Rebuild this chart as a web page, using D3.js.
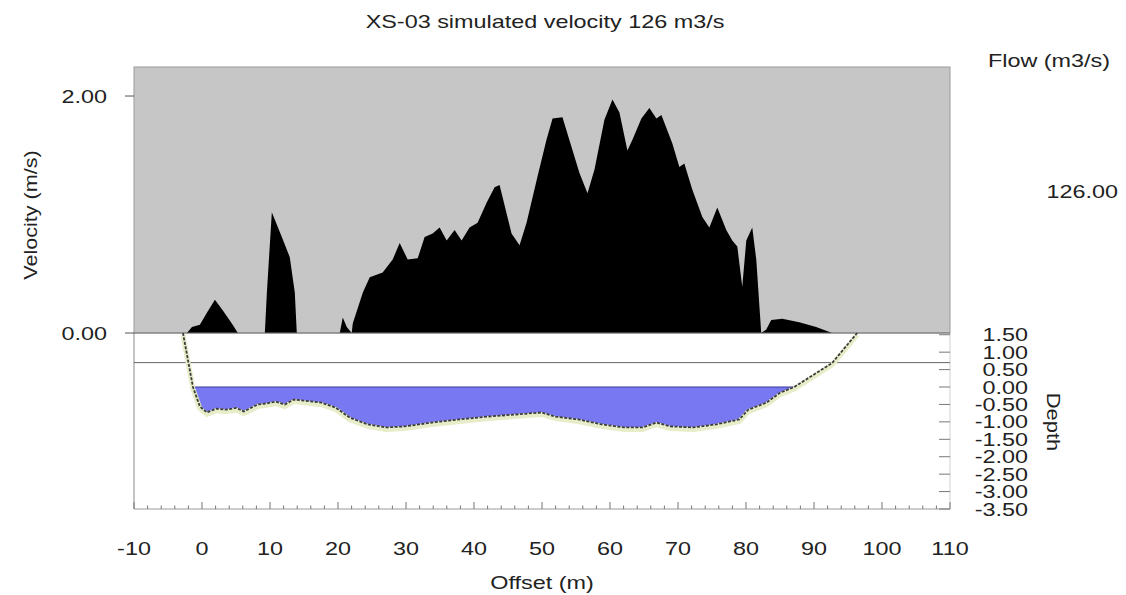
<!DOCTYPE html>
<html>
<head>
<meta charset="utf-8">
<script src="https://cdn.jsdelivr.net/npm/d3@7"></script>
<style>
  body { margin: 0; background: #fff; }
  text { font-family: "Liberation Sans", Arial, sans-serif; font-size: 18px; fill: #222; }
</style>
</head>
<body>
<svg id="plot"></svg>
<script>
const W = 1126, H = 595;
const plot = { left: 134, right: 950, top: 67, mid: 333, bottom: 509 };

const title = "XS-03 simulated velocity 126 m3/s";
const flowLabel = "Flow (m3/s)";
const flowValue = 126.0;

// velocity profile (offset m, velocity m/s)
const velOffset = [-2.22, -1.48, -0.31, 0.72, 1.9, 3.07, 4.39, 5.28, 9.24, 9.54, 10.27, 11.74, 12.91, 13.65, 13.94,
  20.26, 20.7, 21.29, 22.02, 22.17, 23.64, 24.67, 26.57, 28.04, 29.07, 30.25, 31.72, 32.74, 33.92, 34.95, 35.98,
  37.15, 38.18, 39.35, 40.53, 41.85, 43.03, 43.76, 45.52, 46.7, 47.73, 49.34, 50.66, 51.55, 53.01, 54.34, 55.51,
  56.69, 57.72, 59.18, 60.36, 61.39, 62.56, 63.3, 64.62, 65.79, 66.82, 67.56, 69.17, 70.2, 70.93, 72.11, 73.58,
  74.61, 75.78, 77.1, 77.98, 78.72, 79.45, 80.04, 80.92, 81.51, 82.24, 82.98, 83.71, 85.33, 87.83, 90.32, 92.67];
const velocity = [0, 0.05, 0.07, 0.17, 0.28, 0.19, 0.08, 0, 0, 0.34, 1.02, 0.81, 0.64, 0.34, 0,
  0, 0.13, 0.05, 0, 0.08, 0.34, 0.47, 0.51, 0.62, 0.76, 0.62, 0.63, 0.81, 0.84, 0.89, 0.78,
  0.87, 0.78, 0.89, 0.93, 1.1, 1.23, 1.25, 0.84, 0.74, 0.93, 1.32, 1.63, 1.81, 1.82, 1.57, 1.35,
  1.18, 1.38, 1.8, 1.97, 1.86, 1.54, 1.63, 1.81, 1.9, 1.81, 1.84, 1.6, 1.4, 1.43, 1.21, 0.98,
  0.89, 1.06, 0.87, 0.78, 0.73, 0.39, 0.78, 0.89, 0.62, 0, 0.03, 0.11, 0.12, 0.09, 0.05, 0];

// ground profile (offset m, elevation relative to water surface)
const bedOffset = [-2.8, -1.33, -0.31, 0.72, 2.1, 3.51, 5.0, 6.16, 8.21, 9.5, 10.86, 12.18, 13.5, 16.29, 17.61,
  19.67, 21.73, 24.37, 27.02, 29.81, 33.77, 37.89, 41.85, 45.96, 49.93, 51.99, 55.36, 58.74, 62.12, 64.77,
  66.82, 68.88, 72.26, 75.64, 79.01, 80.34, 82.98, 85.04, 87.09, 92.67, 96.35];
const bedDepth = [1.55, 0, -0.56, -0.73, -0.62, -0.65, -0.6, -0.7, -0.5, -0.47, -0.42, -0.5, -0.36, -0.42, -0.45,
  -0.59, -0.88, -1.07, -1.16, -1.13, -1.02, -0.93, -0.85, -0.79, -0.73, -0.85, -0.93, -1.07, -1.16, -1.16,
  -1.02, -1.13, -1.16, -1.07, -0.93, -0.65, -0.45, -0.16, 0, 0.69, 1.55];
const waterLevel = 0;
const refLevel = 0.7;

const xTicks = [-10, 0, 10, 20, 30, 40, 50, 60, 70, 80, 90, 100, 110];
const velTicks = [0, 2];
const depthTicks = [1.5, 1.0, 0.5, 0, -0.5, -1.0, -1.5, -2.0, -2.5, -3.0, -3.5];

const svg = d3.select("#plot").attr("width", W).attr("height", H);

const x = d3.scaleLinear().domain([-10, 110]).range([plot.left, plot.right]);
const yVel = d3.scaleLinear().domain([0, 2.245]).range([plot.mid, plot.top]);
const yDep = d3.scaleLinear().domain([-3.5, 1.55]).range([plot.bottom, plot.mid]);

// wide-looking text: stretch along the reading direction
function label(x0, y0, str, anchor, rot, sx) {
  return svg.append("text")
    .attr("transform", `translate(${x0},${y0}) rotate(${rot || 0}) scale(${sx || 1.3},1)`)
    .attr("text-anchor", anchor || "middle")
    .text(str);
}

// upper panel background
svg.append("rect")
  .attr("x", plot.left).attr("y", plot.top)
  .attr("width", plot.right - plot.left).attr("height", plot.mid - plot.top)
  .attr("fill", "#c6c6c6").attr("stroke", "#9a9a9a");

// velocity area
const vel = velOffset.map((o, i) => ({ o, v: velocity[i] }));
svg.append("path")
  .datum(vel)
  .attr("fill", "#000")
  .attr("d", d3.area().x(d => x(d.o)).y0(yVel(0)).y1(d => yVel(d.v)));

// lower panel frame
svg.append("line").attr("x1", plot.left).attr("x2", plot.left).attr("y1", plot.mid).attr("y2", plot.bottom)
  .attr("stroke", "#8a8a8a");
svg.append("line").attr("x1", plot.right).attr("x2", plot.right).attr("y1", plot.mid).attr("y2", plot.bottom)
  .attr("stroke", "#d0d0d0");
svg.append("line").attr("x1", plot.left).attr("x2", plot.right).attr("y1", plot.bottom).attr("y2", plot.bottom)
  .attr("stroke", "#9a9a9a");
svg.append("line").attr("x1", plot.left).attr("x2", plot.right).attr("y1", plot.mid).attr("y2", plot.mid)
  .attr("stroke", "#777");

// reference level line
svg.append("line")
  .attr("x1", plot.left).attr("x2", plot.right)
  .attr("y1", yDep(refLevel)).attr("y2", yDep(refLevel))
  .attr("stroke", "#666").attr("stroke-width", 1);

// water (blue) between surface and bed
const bed = bedOffset.map((o, i) => ({ o, d: bedDepth[i] }));
const wet = bed.filter(d => d.d <= waterLevel);
svg.append("path")
  .datum(wet)
  .attr("fill", "#7878f2")
  .attr("d", d3.area().x(d => x(d.o)).y0(yDep(waterLevel)).y1(d => yDep(d.d)));
svg.append("line")
  .attr("x1", x(wet[0].o)).attr("x2", x(wet[wet.length - 1].o))
  .attr("y1", yDep(waterLevel)).attr("y2", yDep(waterLevel))
  .attr("stroke", "#3a3a9a").attr("stroke-width", 1.2);

// ground line
const bedLine = d3.line().x(d => x(d.o)).y(d => yDep(d.d));
svg.append("path").datum(bed)
  .attr("fill", "none").attr("stroke", "#e6edc8").attr("stroke-width", 5)
  .attr("transform", "translate(0,2)")
  .attr("d", bedLine);
svg.append("path").datum(bed)
  .attr("fill", "none").attr("stroke", "#3c3c3c").attr("stroke-width", 1.8)
  .attr("stroke-dasharray", "3,1.5")
  .attr("d", bedLine);

// x ticks (every 2 m, pointing up)
d3.range(-10, 111, 2).forEach(t => {
  const major = t % 10 === 0;
  svg.append("line")
    .attr("x1", x(t)).attr("x2", x(t))
    .attr("y1", plot.bottom).attr("y2", plot.bottom - (major ? 7 : 3.5))
    .attr("stroke", "#777");
});
xTicks.forEach(t => label(x(t), 554.5, String(t), "middle"));
label(542, 589, "Offset (m)", "middle");

// velocity axis
velTicks.forEach(t => {
  svg.append("line")
    .attr("x1", plot.left - 9).attr("x2", plot.left)
    .attr("y1", yVel(t)).attr("y2", yVel(t))
    .attr("stroke", "#555");
  label(107, yVel(t) + 6.5, t.toFixed(2), "end");
});
label(37, 215, "Velocity (m/s)", "middle", -90, 1.2);

// depth axis on the right
depthTicks.forEach(t => {
  svg.append("line")
    .attr("x1", plot.right - 11).attr("x2", plot.right)
    .attr("y1", yDep(t)).attr("y2", yDep(t))
    .attr("stroke", "#777");
  label(1028, yDep(t) + 6.5, t.toFixed(2), "end");
});
label(1047, 422, "Depth", "middle", 90, 1.22);

// title and flow
label(545, 28, title, "middle");
label(1049, 67, flowLabel, "middle");
label(1118, 198, flowValue.toFixed(2), "end");
</script>
</body>
</html>
